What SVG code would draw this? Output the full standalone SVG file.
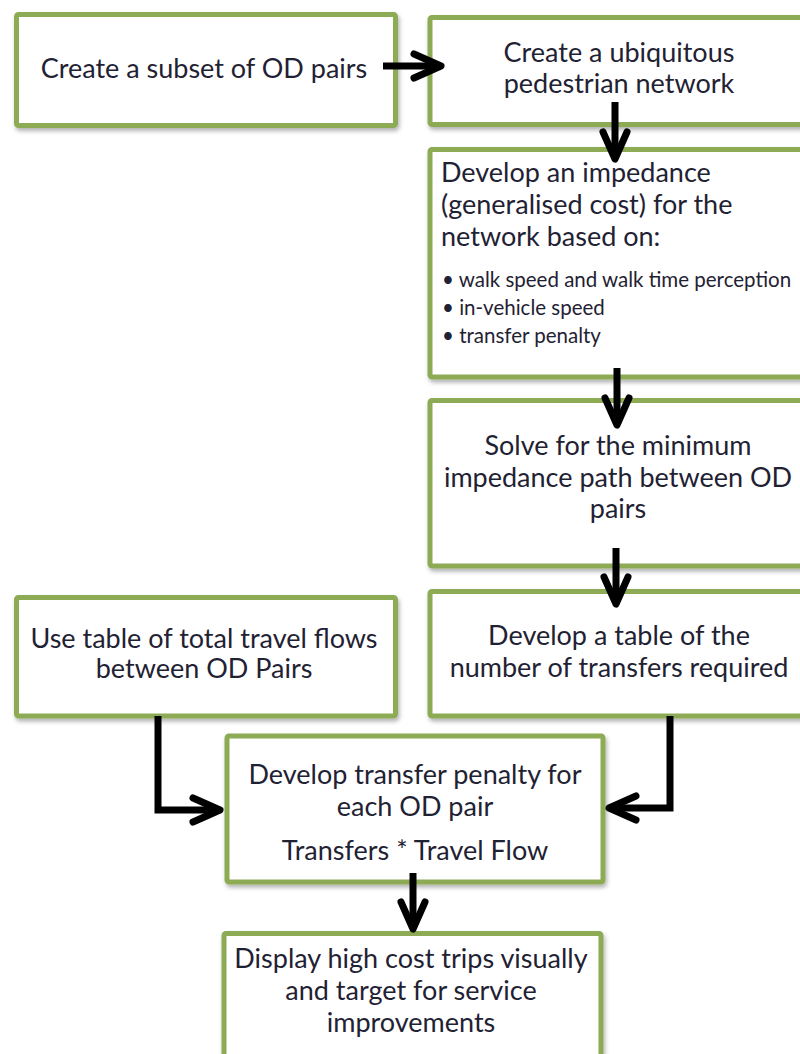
<svg xmlns="http://www.w3.org/2000/svg" width="800" height="1054" viewBox="0 0 800 1054">
<style>
.box{fill:#fff;stroke:#8DAA54;stroke-width:5;filter:url(#sh)}
.t{font-family:Lato,"Liberation Sans",sans-serif;font-size:27px;fill:#1f2233}
.c{text-anchor:middle}
.b{font-size:20.5px}
.con{fill:none;stroke:#000;stroke-width:7;stroke-linejoin:miter;marker-end:url(#arr)}
</style>
<defs>
<filter id="sh" x="-5%" y="-5%" width="115%" height="120%">
<feDropShadow dx="1.5" dy="3" stdDeviation="2" flood-color="#000" flood-opacity="0.3"/>
</filter>
<marker id="arr" markerUnits="userSpaceOnUse" markerWidth="60" markerHeight="60" viewBox="-40 -30 60 60" refX="0" refY="0" orient="auto" overflow="visible">
<path d="M-27,-12 L0,0 L-27,12" fill="none" stroke="#000" stroke-width="7" stroke-linecap="round" stroke-linejoin="round"/>
</marker>
</defs>
<rect width="800" height="1054" fill="#fff"/>
<g id="n1"><rect class="box" x="16.5" y="14.5" width="379" height="111" rx="2"/>
<text class="t c" x="204" y="78">Create a subset of OD pairs</text></g>
<g id="n2"><rect class="box" x="430" y="17.5" width="380" height="107" rx="2"/>
<text class="t c" x="619" y="62">Create a ubiquitous</text>
<text class="t c" x="619" y="93">pedestrian network</text></g>
<g id="n3"><rect class="box" x="430" y="149.5" width="380" height="227.5" rx="2"/>
<text class="t" x="441" y="182">Develop an impedance</text>
<text class="t" x="441" y="214">(generalised cost) for the</text>
<text class="t" x="441" y="246">network based on:</text>
<text class="t b" x="442" y="287">• walk speed and walk time perception</text>
<text class="t b" x="442" y="315">• in-vehicle speed</text>
<text class="t b" x="442" y="343">• transfer penalty</text></g>
<g id="n4"><rect class="box" x="430" y="400.5" width="380" height="165.5" rx="2"/>
<text class="t c" x="618" y="455">Solve for the minimum</text>
<text class="t c" x="618" y="487">impedance path between OD</text>
<text class="t c" x="618" y="518">pairs</text></g>
<g id="n5"><rect class="box" x="430" y="591.5" width="380" height="124.5" rx="2"/>
<text class="t c" x="619" y="645">Develop a table of the</text>
<text class="t c" x="619" y="677">number of transfers required</text></g>
<g id="n6"><rect class="box" x="16.5" y="597.5" width="379" height="118.5" rx="2"/>
<text class="t c" x="204" y="648">Use table of total travel flows</text>
<text class="t c" x="204" y="678">between OD Pairs</text></g>
<g id="n7"><rect class="box" x="227" y="736" width="376" height="146" rx="2"/>
<text class="t c" x="415" y="784">Develop transfer penalty for</text>
<text class="t c" x="415" y="816">each OD pair</text>
<text class="t c" x="415" y="860">Transfers * Travel Flow</text></g>
<g id="n8"><rect class="box" x="224" y="933.5" width="377" height="140" rx="2"/>
<text class="t c" x="411" y="968">Display high cost trips visually</text>
<text class="t c" x="411" y="1000">and target for service</text>
<text class="t c" x="411" y="1032">improvements</text></g>
<g id="connectors">
<path class="con" d="M383,66 L441,66"/>
<path class="con" d="M615,102 L615,159"/>
<path class="con" d="M617,368 L617,425"/>
<path class="con" d="M616,548 L616,604"/>
<path class="con" d="M413,873 L413,929"/>
<path class="con" d="M158,716 L158,810 L220,810"/>
<path class="con" d="M670,716 L670,808 L609,808"/>
</g>
</svg>
